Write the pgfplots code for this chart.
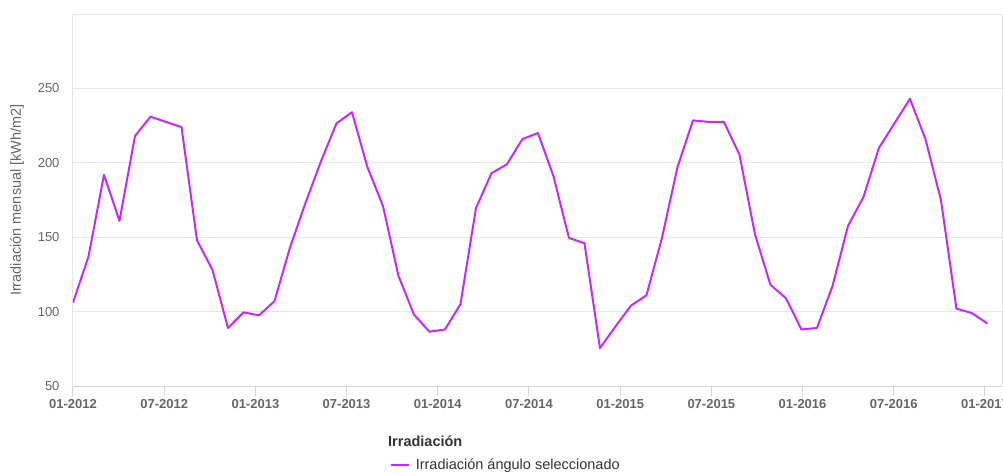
\documentclass[border=0pt]{standalone}
\usepackage{fontspec}
\setmainfont{Liberation Sans}
\usepackage{pgfplots}
\pgfplotsset{compat=1.18}
\definecolor{linec}{RGB}{200,40,255}
\definecolor{gridc}{RGB}{230,230,230}
\definecolor{axisc}{RGB}{204,214,235}
\definecolor{tickc}{RGB}{102,102,102}
\definecolor{titc}{RGB}{51,51,51}
\begin{document}
\begin{tikzpicture}
\begin{axis}[
  scale only axis, width=929pt, height=372pt,
  xmin=0, xmax=59.94, ymin=50, ymax=300,
  xtick={0,5.884,11.768,17.652,23.536,29.42,35.304,41.188,47.072,52.956,58.84},
  xticklabels={01-2012,07-2012,01-2013,07-2013,01-2014,07-2014,01-2015,07-2015,01-2016,07-2016,01-2017},
  ytick={50,100,150,200,250},
  xtick pos=bottom,
  ymajorgrids, major grid style={draw=gridc, line width=1pt},
  axis line style={draw=gridc, line width=1pt},
  tick align=outside, major tick length=10pt,
  xtick style={draw=axisc, line width=1pt},
  ytick style={draw=none},
  xticklabel style={font=\fontsize{13}{15}\selectfont\bfseries, text=tickc},
  yticklabel style={font=\fontsize{13}{15}\selectfont, text=tickc},
  /pgf/number format/assume math mode=true,
  ylabel={Irradiación mensual [kWh/m2]},
  ylabel style={font=\fontsize{14.5}{17}\selectfont, text=tickc, at={(axis description cs:-0.0603,0.5)}, anchor=center},
  legend style={at={(axis description cs:0.341,-0.212)}, anchor=west, draw=none, fill=none, inner sep=0pt, outer sep=0pt,
    font=\fontsize{14.5}{17}\selectfont, text=titc, legend cell align=left, nodes={inner sep=0pt},
    /tikz/every odd column/.append style={column sep=6pt}},
  legend image code/.code={\draw[#1] (0pt,0pt) -- (18pt,0pt);},
]
\draw[axisc, line width=1pt] (rel axis cs:0,0) -- (rel axis cs:1,0);
\addplot[linec, line width=2pt, line join=round] coordinates {
(0,106) (1,137) (2,192) (3,161) (4,218) (5,231) (6,227.5) (7,224) (8,148) (9,128)
(10,89) (11,99.5) (12,97.5) (13,107) (14,143) (15,173) (16,201) (17,226.5) (18,234) (19,197)
(20,171) (21,124) (22,98) (23,86.5) (24,88) (25,105) (26,169.5) (27,193) (28,199) (29,216)
(30,220) (31,191) (32,149.5) (33,146) (34,75.5) (35,90) (36,104) (37,111) (38,149.5) (39,197)
(40,228.5) (41,227.5) (42,227.5) (43,205.5) (44,152) (45,118) (46,109) (47,88) (48,89) (49,117)
(50,157.5) (51,177) (52,210) (53,226.5) (54,243) (55,216) (56,175) (57,102) (58,99) (59,92)
};
\addlegendentry{Irradiación ángulo seleccionado}
\end{axis}
\node[anchor=west, font=\fontsize{14.5}{17}\selectfont\bfseries, text=titc, inner sep=0pt] at (315pt,-55pt) {Irradiación};
\pgfresetboundingbox
\path (-73pt,-86pt) rectangle (930pt,386pt);
\end{tikzpicture}
\end{document}
